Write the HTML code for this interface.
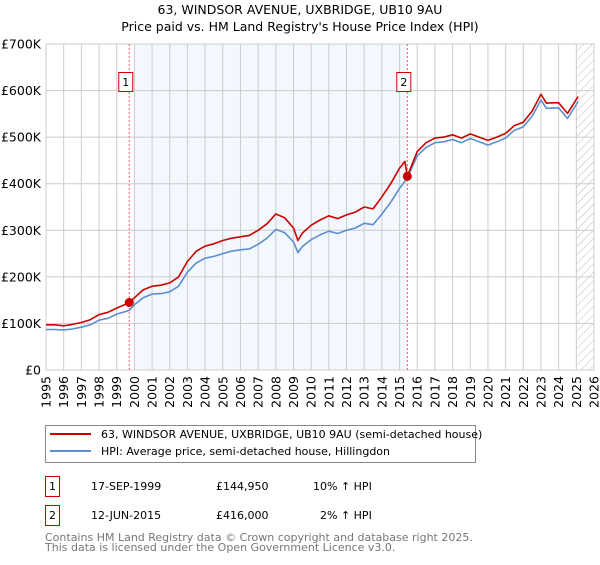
<!DOCTYPE html>
<html><head><meta charset="utf-8">
<style>
body{margin:0;background:#fff;font-family:"Liberation Sans","DejaVu Sans",sans-serif;}
svg text{font-family:"DejaVu Sans","Liberation Sans",sans-serif;}
</style></head>
<body>
<svg id="chart" width="600" height="560" xmlns="http://www.w3.org/2000/svg">
<text x="300" y="14" text-anchor="middle" font-size="12.5" fill="#000">63, WINDSOR AVENUE, UXBRIDGE, UB10 9AU</text>
<text x="300" y="31" text-anchor="middle" font-size="12.5" fill="#000">Price paid vs. HM Land Registry's House Price Index (HPI)</text>
<g id="plot"></g>
<g>
<rect x="45.5" y="425.5" width="430" height="37" fill="#fff" stroke="#888"/>
<line x1="50" y1="434" x2="91" y2="434" stroke="#cc0000" stroke-width="2"/>
<text x="101" y="438" font-size="11">63, WINDSOR AVENUE, UXBRIDGE, UB10 9AU (semi-detached house)</text>
<line x1="50" y1="451" x2="91" y2="451" stroke="#5b8fd0" stroke-width="2"/>
<text x="101" y="455" font-size="11">HPI: Average price, semi-detached house, Hillingdon</text>
</g>
<g font-size="11">
<rect x="45.5" y="476.5" width="14" height="20" fill="#fff" stroke="#cc0000"/>
<text x="52.5" y="490" text-anchor="middle">1</text>
<text x="91" y="490">17-SEP-1999</text>
<text x="216" y="490">£144,950</text>
<text x="313" y="490">10% ↑ HPI</text>
<rect x="45.5" y="505.5" width="14" height="20" fill="#fff" stroke="#cc0000"/>
<text x="52.5" y="519" text-anchor="middle">2</text>
<text x="91" y="519">12-JUN-2015</text>
<text x="216" y="519">£416,000</text>
<text x="320" y="519">2% ↑ HPI</text>
</g>
<text x="45" y="541" font-size="11" fill="#777">Contains HM Land Registry data © Crown copyright and database right 2025.</text>
<text x="45" y="551" font-size="11" fill="#777">This data is licensed under the Open Government Licence v3.0.</text>
</svg>
<script>
const hpiYears=[1995,1995.5,1996,1996.5,1997,1997.5,1998,1998.5,1999,1999.71,2000,2000.5,2001,2001.5,2002,2002.5,2003,2003.5,2004,2004.5,2005,2005.5,2006,2006.5,2007,2007.5,2008,2008.5,2009,2009.25,2009.5,2010,2010.5,2011,2011.5,2012,2012.5,2013,2013.5,2014,2014.5,2015,2015.44,2016,2016.5,2017,2017.5,2018,2018.5,2019,2019.5,2020,2020.5,2021,2021.5,2022,2022.5,2023,2023.3,2024,2024.5,2025,2025.1];
const hpiValues=[87,87,86,88,92,97,107,111,120,128,140,155,163,164,168,180,210,230,240,244,250,255,258,260,270,283,302,295,275,252,265,280,290,298,293,300,305,315,312,335,360,390,412,460,478,488,490,495,488,497,490,483,490,498,515,522,545,580,562,563,540,570,576];
const priceYears=[1995,1995.5,1996,1996.5,1997,1997.5,1998,1998.5,1999,1999.71,2000,2000.5,2001,2001.5,2002,2002.5,2003,2003.5,2004,2004.5,2005,2005.5,2006,2006.5,2007,2007.5,2008,2008.5,2009,2009.25,2009.5,2010,2010.5,2011,2011.5,2012,2012.5,2013,2013.5,2014,2014.5,2015,2015.3,2015.44,2016,2016.5,2017,2017.5,2018,2018.5,2019,2019.5,2020,2020.5,2021,2021.5,2022,2022.5,2023,2023.3,2024,2024.5,2025,2025.1];
const priceValues=[97,97,95,98,102,108,119,124,133,144.95,155,172,180,182,187,200,233,255,266,271,278,283,286,289,300,314,335,327,305,278,294,311,322,331,325,333,339,350,346,372,400,433,448,416,469,488,498,500,505,498,507,500,493,500,508,525,532,556,592,573,574,551,581,587];
const salesYears=[1999.71,2015.44];
const salesValues=[144.95,416];
const yTicks=[0,100,200,300,400,500,600,700];
const yTickLabels=["£0","£100K","£200K","£300K","£400K","£500K","£600K","£700K"];
const xTicks=[1995,1996,1997,1998,1999,2000,2001,2002,2003,2004,2005,2006,2007,2008,2009,2010,2011,2012,2013,2014,2015,2016,2017,2018,2019,2020,2021,2022,2023,2024,2025,2026];

const NS="http://www.w3.org/2000/svg";
const L=46,R=594,T=44,B=370;
const xs=y=>L+(y-1995)/31*(R-L);
const ys=v=>B-v/700*(B-T);
const g=document.getElementById('plot');
function mk(tag,attrs,parent){const e=document.createElementNS(NS,tag);for(const k in attrs)e.setAttribute(k,attrs[k]);(parent||g).appendChild(e);return e;}
const defs=mk('defs',{});
const pat=mk('pattern',{id:'hatch',width:6,height:6,patternUnits:'userSpaceOnUse',patternTransform:'rotate(45)'},defs);
mk('line',{x1:0,y1:0,x2:0,y2:6,stroke:'#bbb','stroke-width':1},pat);
let e=mk('rect',{x:L,y:T,width:R-L,height:B-T,fill:'#fff'});


e=mk('rect',{x:xs(2000),y:T,width:xs(salesYears[1])-xs(2000),height:B-T,fill:'#eef3fd',opacity:0.7});


e=mk('rect',{x:xs(2025),y:T,width:R-xs(2025),height:B-T,fill:'url(#hatch)'});


xTicks.forEach(t=>{const l=mk('line',{x1:xs(t),x2:xs(t),y1:T,y2:B,stroke:'#ccc','stroke-width':1});


const tx=mk('text',{x:0,y:0,'font-size':12.5,'text-anchor':'end',transform:`translate(${xs(t)+4.5},${B+6}) rotate(-90)`});
tx.textContent=t;

});
yTicks.forEach((t,i)=>{const l=mk('line',{x1:L,x2:R,y1:ys(t),y2:ys(t),stroke:'#ccc','stroke-width':1});


const tx=mk('text',{x:L-5,y:ys(t)+4.5,'font-size':12.5,'text-anchor':'end'});
tx.textContent=yTickLabels[i];

});
e=mk('rect',{x:L,y:T,width:R-L,height:B-T,fill:'none',stroke:'#ccc'});


salesYears.forEach((s,i)=>{const l=mk('line',{x1:xs(s),x2:xs(s),y1:T,y2:B,stroke:'#e06060','stroke-dasharray':'2,2','stroke-width':1});

});
function path(xa,va,col,name){const d=xa.map((x,i)=>(i?'L':'M')+xs(x).toFixed(1)+','+ys(va[i]).toFixed(1)).join('');
const p=mk('path',{d:d,fill:'none',stroke:col,'stroke-width':1.6,'stroke-linejoin':'round'});

}
path(hpiYears,hpiValues,'#5b8fd0','hpi-line');
path(priceYears,priceValues,'#cc0000','property-price-line');
salesYears.forEach((s,i)=>{const c=mk('circle',{cx:xs(s),cy:ys(salesValues[i]),r:4.5,fill:'#cc0000'});


const bx=xs(s)-11;
const r=mk('rect',{x:bx+0.5,y:72.5,width:14,height:19,fill:'#fff',stroke:'#cc0000'});


const t=mk('text',{x:bx+7.5,y:86,'font-size':11,'text-anchor':'middle'});
t.textContent=String(i+1);

});
</script>
</body></html>
